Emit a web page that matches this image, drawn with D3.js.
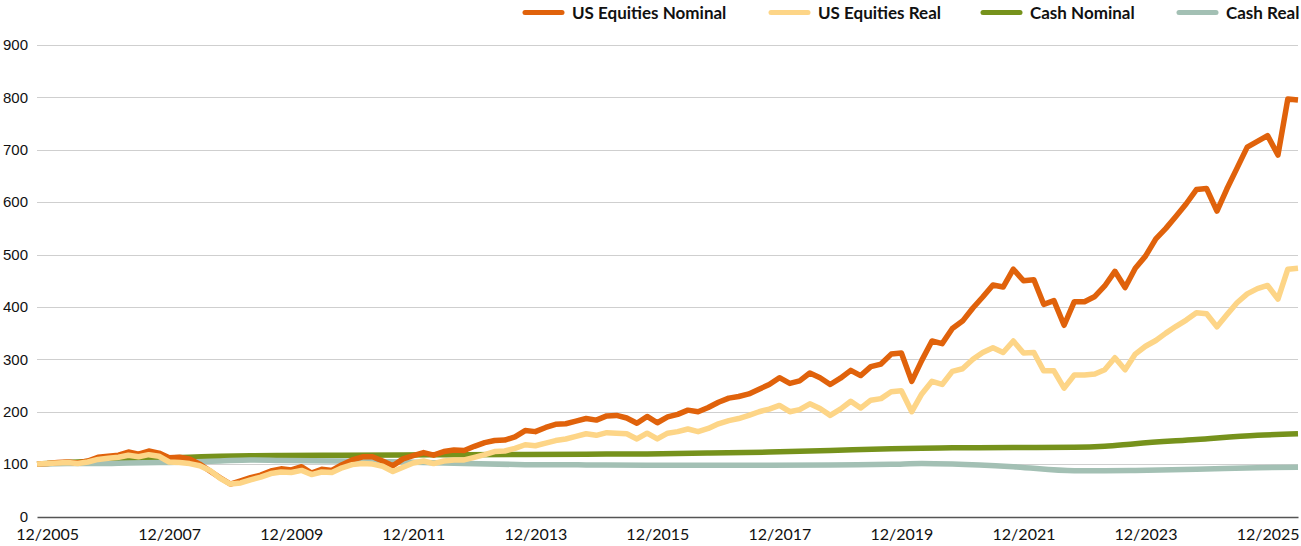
<!DOCTYPE html>
<html>
<head>
<meta charset="utf-8">
<script src="https://cdn.jsdelivr.net/npm/d3@7"></script>
<style>
  html, body { margin: 0; padding: 0; background: #fff; }
  svg { display: block; }
</style>
</head>
<body>
<svg id="chart" width="1301" height="546"></svg>
<script>
// index values, every 2 months from 10/2005
const usNominal = [
  100,101,103,104,102,106,113,115,117,123,
  119,125,121,112,113,110,100,87,74,62,
  68,74,79,87,91,89,95,83,90,88,
  99,108,114,114,106,97,110,116,122,117,
  124,127,126,134,141,145,146,152,164,162,
  170,176,177,182,187,184,192,193,188,178,
  191,179,190,195,203,200,208,218,226,229,
  234,243,252,265,254,259,274,265,252,264,
  279,269,286,291,310,312,258,298,335,330,
  359,373,398,419,442,438,472,450,452,405,
  412,365,410,410,420,440,468,437,474,497,
  530,550,573,597,624,626,583,625,665,705,
  716,727,690,797,795
];
const usReal = [
  100,101,102,103,101,104,109,111,113,117,
  114,118,115,104,103,101,97,88,73,62,
  64,70,75,82,85,84,88,80,85,84,
  93,99,101,100,96,86,94,102,106,101,
  106,108,108,113,118,124,125,130,137,135,
  140,145,148,153,158,155,160,159,158,148,
  159,148,159,162,167,162,168,177,183,187,
  193,200,205,212,200,204,215,206,193,205,
  220,207,222,225,238,240,200,234,258,252,
  277,282,300,313,322,313,335,312,313,278,
  278,245,270,270,272,280,303,280,310,325,
  336,350,363,375,389,387,362,385,408,425,
  435,441,415,472,474
];
// cash series, months after 10/2005
const cashMonths  = [0,6,12,18,24,30,36,42,48,60,72,84,96,108,120,132,144,156,168,174,180,192,204,210,216,228,240,248];
const cashNominal = [100,103,106,109,111,113,115,116,116.5,117,117.5,118,118.5,119,119.5,121,123,126,129.5,130.5,131,131.5,132,134,139,147,155,158];
const cashReal    = [100,101,101,102,103,104,106,108,107,106,104,101,99,98.5,98,98,98,98.5,99.5,101,100,95,87.5,87.5,88,90,93,94];

const tickYears = [2005,2007,2009,2011,2013,2015,2017,2019,2021,2023,2025];
const yTicks = [0,100,200,300,400,500,600,700,800,900];

const names  = ["US Equities Nominal","US Equities Real","Cash Nominal","Cash Real"];
const colors = ["#E0620B","#FDD587","#76921C","#A3C0B4"];

const start = new Date(2005, 9, 1);
const eqDates = usNominal.map((v, i) => d3.timeMonth.offset(start, i * 2));
const cashDates = cashMonths.map(m => d3.timeMonth.offset(start, m));

const svg = d3.select("#chart");

const x = d3.scaleTime()
  .domain([start, d3.timeMonth.offset(start, 248)])
  .range([37, 1298]);
const y = d3.scaleLinear()
  .domain([0, 900])
  .range([516.5, 45]);

// gridlines
svg.append("g")
  .selectAll("line")
  .data(yTicks.filter(t => t > 0))
  .enter()
  .append("line")
  .attr("x1", 37).attr("x2", 1298)
  .attr("y1", d => Math.round(y(d)) + 0.5)
  .attr("y2", d => Math.round(y(d)) + 0.5)
  .attr("stroke", "#cfcfcf")
  .attr("stroke-width", 1.2);

// y labels
svg.append("g")
  .selectAll("text")
  .data(yTicks)
  .enter()
  .append("text")
  .attr("x", 28)
  .attr("y", d => y(d))
  .attr("dy", "0.35em")
  .attr("text-anchor", "end")
  .style("font-family", "'Liberation Sans', Arial, sans-serif")
  .style("font-size", "15px")
  .attr("fill", "#111")
  .text(d => d);

// x axis
const xAxis = d3.axisBottom(x)
  .tickValues(tickYears.map(yr => new Date(yr, 11, 1)))
  .tickSize(0)
  .tickPadding(12)
  .tickFormat(d3.timeFormat("%m/%Y"));
const gx = svg.append("g")
  .attr("transform", "translate(0," + 517 + ")")
  .call(xAxis);
gx.select(".domain").attr("stroke", "#555").attr("stroke-width", 1.5);
gx.selectAll("text")
  .style("font-family", "Lato, 'Open Sans', sans-serif")
  .style("font-size", "16px")
  .attr("fill", "#111");

// lines
const line = d3.line()
  .x(d => x(d[0]))
  .y(d => y(d[1]));
const smooth = d3.line()
  .x(d => x(d[0]))
  .y(d => y(d[1]))
  .curve(d3.curveMonotoneX);

const series = [
  {vals: cashNominal, dates: cashDates, c: colors[2], gen: smooth},
  {vals: cashReal, dates: cashDates, c: colors[3], gen: smooth},
  {vals: usNominal, dates: eqDates, c: colors[0], gen: line},
  {vals: usReal, dates: eqDates, c: colors[1], gen: line}
];
series.forEach(s => {
  svg.append("path")
    .datum(s.vals.map((v, i) => [s.dates[i], v]))
    .attr("fill", "none")
    .attr("stroke", s.c)
    .attr("stroke-width", 5.5)
    .attr("stroke-linejoin", "round")
    .attr("stroke-linecap", "butt")
    .attr("d", s.gen);
});

// legend
const legX = [525, 771, 983, 1179];
const leg = svg.append("g");
names.forEach((n, i) => {
  leg.append("line")
    .attr("x1", legX[i]).attr("x2", legX[i] + 37)
    .attr("y1", 12.5).attr("y2", 12.5)
    .attr("stroke", colors[i])
    .attr("stroke-width", 5)
    .attr("stroke-linecap", "round");
  leg.append("text")
    .attr("x", legX[i] + 47)
    .attr("y", 18.5)
    .style("font-family", "Lato, 'Open Sans', sans-serif")
    .style("font-size", "17px")
    .style("font-weight", "700")
    .attr("fill", "#111")
    .text(n);
});
</script>
</body>
</html>
